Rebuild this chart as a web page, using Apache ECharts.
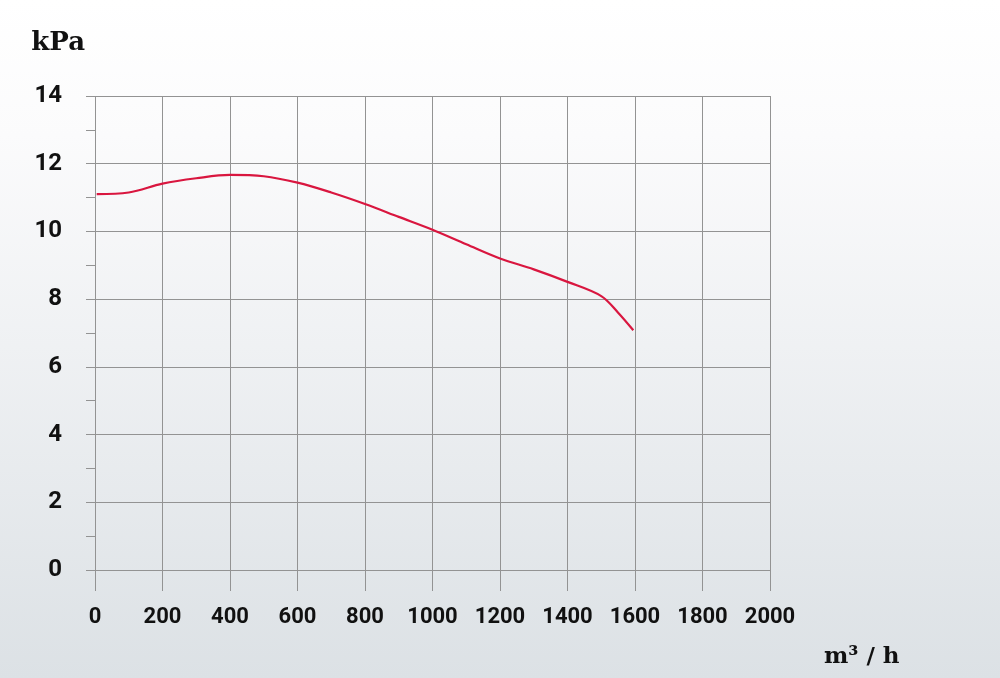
<!DOCTYPE html>
<html>
<head>
<meta charset="utf-8">
<script src="https://cdn.jsdelivr.net/npm/echarts@6/dist/echarts.min.js"></script>
<style>
html,body{margin:0;padding:0;width:1000px;height:678px;overflow:hidden;}
#chart{width:1000px;height:678px;}
</style>
</head>
<body>
<div id="chart"></div>
<script>
const flow = [5, 100, 200, 300, 400, 500, 600, 700, 800, 900, 1000, 1100, 1200, 1300, 1400, 1500, 1550, 1595];
const pressure = [11.1, 11.15, 11.41, 11.57, 11.67, 11.63, 11.44, 11.15, 10.81, 10.43, 10.05, 9.62, 9.2, 8.88, 8.51, 8.09, 7.6, 7.08];
const yUnit = 'kPa';
const xUnit = 'm³ / h';

const gridColor = '#939393';
const chart = echarts.init(document.getElementById('chart'));
chart.setOption({
  backgroundColor: {
    type: 'linear', x: 0, y: 0, x2: 0, y2: 1,
    colorStops: [
      {offset: 0, color: '#ffffff'},
      {offset: 0.2, color: '#fbfbfc'},
      {offset: 1, color: '#dce1e5'}
    ]
  },
  animation: false,
  grid: {left: 95, right: 230, top: 96, bottom: 108, containLabel: false},
  xAxis: {
    type: 'value', min: 0, max: 2000, interval: 200,
    name: xUnit, nameLocation: 'end', nameGap: 54,
    nameTextStyle: {fontFamily: 'DejaVu Serif', fontWeight: 'bold', fontSize: 23, color: '#111',
      align: 'left', verticalAlign: 'top', padding: [76, 0, 0, 0]},
    axisLine: {show: false},
    axisTick: {show: true, length: 21, lineStyle: {color: gridColor, width: 1}},
    splitLine: {show: true, lineStyle: {color: gridColor, width: 1}},
    axisLabel: {margin: 36, fontFamily: 'Roboto', fontWeight: 'bold', fontSize: 22, color: '#111',
      formatter: v => String(v)}
  },
  yAxis: {
    type: 'value', min: 0, max: 14, interval: 2,
    name: yUnit, nameLocation: 'end', nameGap: 40,
    nameTextStyle: {fontFamily: 'DejaVu Serif', fontWeight: 'bold', fontSize: 26, color: '#111',
      align: 'right', padding: [0, 10, 0, 0]},
    axisLine: {show: false},
    axisTick: {show: true, length: 9, lineStyle: {color: gridColor, width: 1}},
    minorTick: {show: true, splitNumber: 2, length: 9, lineStyle: {color: gridColor, width: 1}},
    splitLine: {show: true, lineStyle: {color: gridColor, width: 1}},
    axisLabel: {margin: 33, fontFamily: 'Roboto', fontWeight: 'bold', fontSize: 24, color: '#111',
      formatter: v => String(v)}
  },
  series: [{
    type: 'line',
    data: flow.map((f, i) => [f, pressure[i]]),
    smooth: 0.35,
    showSymbol: false,
    lineStyle: {color: '#d9163f', width: 2.2}
  }]
});
</script>
</body>
</html>
